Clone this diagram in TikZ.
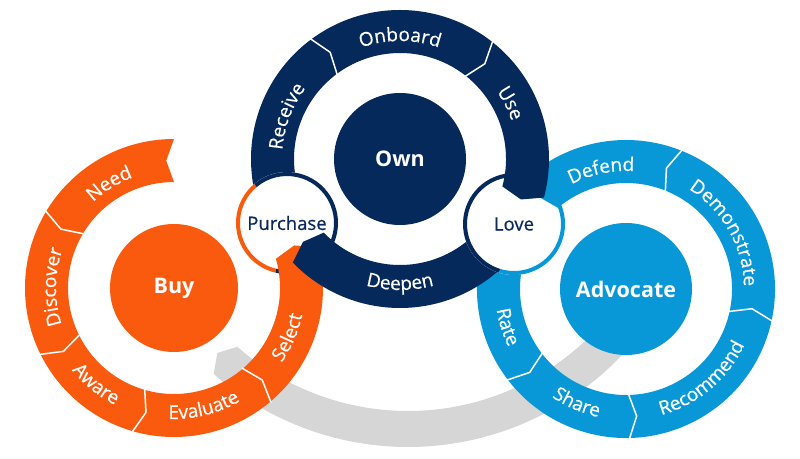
\documentclass[tikz,border=0pt]{standalone}
\usepackage{fontspec}
\setmainfont{Open Sans}
\newfontfamily\medfont[FakeBold=0.5]{Open Sans}
\usetikzlibrary{calc,decorations.text}
\definecolor{org}{HTML}{F95A0E}
\definecolor{nvy}{HTML}{05295B}
\definecolor{blu}{HTML}{0898D7}
\definecolor{gry}{HTML}{D6D6D6}
\definecolor{txt}{HTML}{0A2A5E}
\newcommand{\lab}{\medfont\fontsize{19}{19}\selectfont}
% #1 colour, #2 centre, #3 inner r, #4 outer r, #5 start, #6 end, #7 chevron offset, #8 mid r
\newcommand{\rpiece}[8]{%
  \fill[#1] ($(#2)+(#5:#4pt)$) arc[start angle=#5, end angle=#6, radius=#4pt]
    -- ($(#2)+({(#6)+(#7)}:#8pt)$) -- ($(#2)+(#6:#3pt)$)
    arc[start angle=#6, end angle=#5, radius=#3pt]
    -- ($(#2)+({(#5)+(#7)}:#8pt)$) -- cycle;}
% separator: #1 centre, #2 angle, #3 offset
\newcommand{\sepl}[3]{%
  \draw[sepline] ($(#1)+(#2:150pt)$) -- ($(#1)+({(#2)+(#3)}:127.5pt)$) -- ($(#1)+(#2:105pt)$);}
% clockwise label (tops outward)
\newcommand{\cwlab}[3]{%
  \path[decorate,decoration={text along path,text align=center,text color=white,text={|\lab|#3}}]
    ($(#1)+({(#2)+50}:118pt)$) arc[start angle={(#2)+50}, end angle={(#2)-50}, radius=118pt];}
% counter-clockwise label (tops inward)
\newcommand{\ccwlab}[3]{%
  \path[decorate,decoration={text along path,text align=center,text color=white,text={|\lab|#3}}]
    ($(#1)+({(#2)-50}:131pt)$) arc[start angle={(#2)-50}, end angle={(#2)+50}, radius=131pt];}
\tikzset{
  sepline/.style={white, line width=1.5pt, line join=miter},
  hubtext/.style={text=white, font=\fontsize{21.5}{21.5}\selectfont\bfseries},
  jointext/.style={text=txt, font=\medfont\fontsize{18.5}{18.5}\selectfont},
  ringborder/.style={line width=4pt}
}
\begin{document}
\begin{tikzpicture}[x=1pt,y=1pt]
\useasboundingbox (0,0) rectangle (800,458);
\coordinate (B) at (174,170);
\coordinate (O) at (400,299);
\coordinate (A) at (626,169);
\coordinate (P) at (287,235);
\coordinate (L) at (514,234);
\coordinate (G) at (408,306);

% grey connecting band
\rpiece{gry}{G}{259}{295}{-38}{-131.2}{-2.3}{277}

% Own ring: Receive piece (under Purchase)
\rpiece{nvy}{O}{106}{149}{200}{126.7}{-3.5}{127.5}

% Advocate ring: Rate .. Demonstrate (under Love)
\rpiece{blu}{A}{106}{149}{165}{428}{3.5}{127.5}
\sepl{A}{217.4}{3.5}
\sepl{A}{271.3}{3.5}
\sepl{A}{347.6}{3.5}
\ccwlab{A}{197.7}{Rate}
\ccwlab{A}{246.7}{Share}
\ccwlab{A}{310.2}{Recommend}
\cwlab{A}{29.6}{Demonstrate}

% Purchase junction circle
\fill[white] (P) circle[radius=51pt];
\draw[org, ringborder] ($(P)+(130:49pt)$) arc[start angle=130, end angle=257, radius=49pt];
\draw[nvy, ringborder] ($(P)+(-103:49pt)$) arc[start angle=-103, end angle=130, radius=49pt];

% Buy ring
\rpiece{org}{B}{106}{149}{90}{376}{3.5}{127.5}
\sepl{B}{149}{3.5}
\sepl{B}{206.3}{3.5}
\sepl{B}{253.8}{3.5}
\sepl{B}{310.3}{3.5}
\cwlab{B}{121.8}{Need}
\cwlab{B}{179.5}{Discover}
\ccwlab{B}{231}{Aware}
\ccwlab{B}{284}{Evaluate}
\ccwlab{B}{336.7}{Select}

% Own ring: Deepen
\rpiece{nvy}{O}{106}{149}{-35}{-136}{-3.5}{127.5}
\ccwlab{O}{270}{Deepen}

% Love junction circle
\fill[white] (L) circle[radius=51pt];
\draw[nvy, ringborder] ($(L)+(100:49pt)$) arc[start angle=100, end angle=253, radius=49pt];
\draw[blu, ringborder] ($(L)+(-107:49pt)$) arc[start angle=-107, end angle=100, radius=49pt];

% Advocate ring: Defend
\rpiece{blu}{A}{106}{149}{68}{130}{3.5}{127.5}
\sepl{A}{68}{3.5}
\cwlab{A}{101.8}{Defend}

% Own ring: Onboard + Use
\rpiece{nvy}{O}{106}{149}{126.7}{-15}{-3.5}{127.5}
\sepl{O}{126.7}{-3.5}
\sepl{O}{51.8}{-3.5}
\cwlab{O}{159.4}{Receive}
\cwlab{O}{90}{Onboard}
\cwlab{O}{26.8}{Use}

% hubs
\fill[org] (B) circle[radius=64pt];
\fill[nvy] (O) circle[radius=66pt];
\fill[blu] (A) circle[radius=66pt];
\node[hubtext] (buy) at (B) {Buy};
\node[hubtext] (own) at (O) {Own};
\node[hubtext] (advocate) at (A) {Advocate};
\node[jointext] (purchase) at (P) {Purchase};
\node[jointext] (love) at (L) {Love};
\end{tikzpicture}
\end{document}
